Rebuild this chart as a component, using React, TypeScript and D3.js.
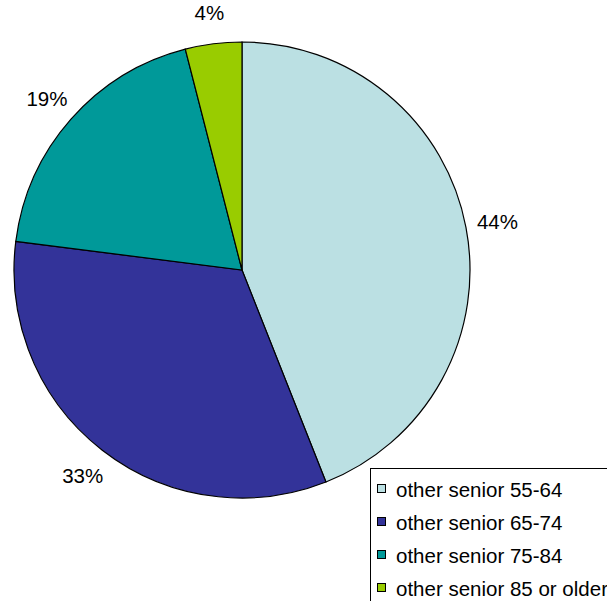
import React from "react";
import * as d3 from "d3";

const categories = ["other senior 55-64", "other senior 65-74", "other senior 75-84", "other senior 85 or older"];
const values = [44, 33, 19, 4];
const labels = ["44%", "33%", "19%", "4%"];
const colors = ["#BBE0E3", "#333399", "#009999", "#99CC00"];

export default function App() {
  const W = 607, H = 601;
  const cx = 242, cy = 270, r = 228, lr = 260;
  const pie = d3.pie<number>().sort(null).value((d) => d)(values);
  const arc = d3.arc<d3.PieArcDatum<number>>().innerRadius(0).outerRadius(r);
  const font = "Liberation Sans, Arial, sans-serif";
  return (
    <svg width={W} height={H} style={{ position: "absolute", left: 0, top: 0, background: "#fff" }}>
      <g transform={`translate(${cx},${cy})`}>
        {pie.map((p, i) => (
          <path key={i} d={arc(p) || ""} fill={colors[i]} stroke="#000" strokeWidth={1.2} />
        ))}
        {pie.map((p, i) => {
          const a = (p.startAngle + p.endAngle) / 2;
          return (
            <text key={i} x={lr * Math.sin(a)} y={-lr * Math.cos(a)} textAnchor="middle" dominantBaseline="central"
              fontFamily={font} fontSize={20.5} fill="#000">{labels[i]}</text>
          );
        })}
      </g>
      <rect x={370.5} y={468.5} width={260} height={150} fill="#fff" stroke="#000" strokeWidth={1} />
      {categories.map((c, i) => (
        <g key={i} transform={`translate(0,${489 + i * 33})`}>
          <rect x={377.5} y={-4.5} width={8} height={8} fill={colors[i]} stroke="#000" strokeWidth={1} />
          <text x={396} y={0} dominantBaseline="central" fontFamily={font} fontSize={20.5} fill="#000">{c}</text>
        </g>
      ))}
    </svg>
  );
}
